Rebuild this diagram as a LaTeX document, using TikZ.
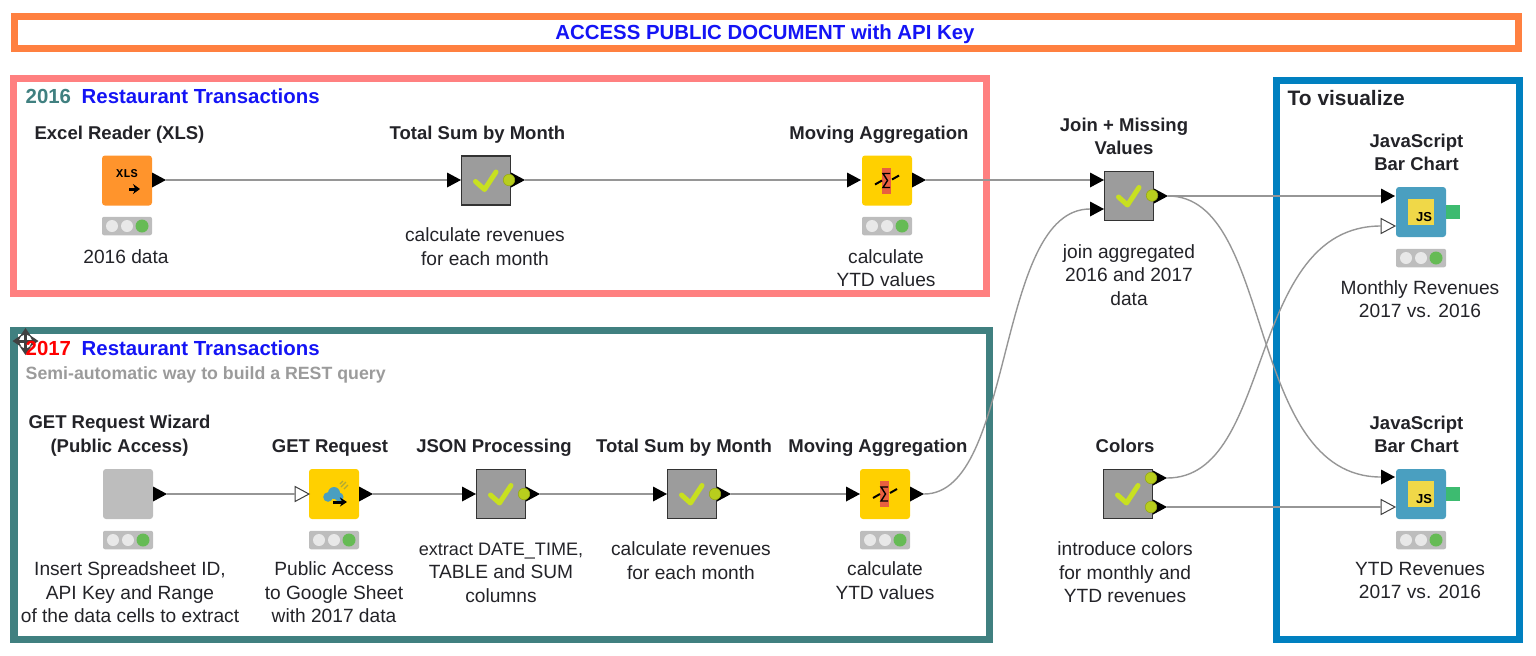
\documentclass[tikz,border=0pt]{standalone}
\usepackage{fontspec}
\setmainfont{Liberation Sans}
\newfontfamily\iconfont{Liberation Mono}
\usepackage{xcolor}
\usetikzlibrary{positioning, arrows.meta, calc, shapes.geometric}
\definecolor{forange}{RGB}{255,128,64}
\definecolor{fpink}{RGB}{255,128,128}
\definecolor{fteal}{RGB}{64,128,128}
\definecolor{fblue}{RGB}{0,128,192}
\definecolor{titleblue}{RGB}{20,20,245}
\definecolor{inktext}{RGB}{35,35,40}
\definecolor{notegray}{RGB}{155,155,155}
\definecolor{wiregray}{RGB}{150,150,150}
\definecolor{kyellow}{RGB}{255,208,0}
\definecolor{korange}{RGB}{255,148,44}
\definecolor{kgray}{RGB}{156,156,156}
\definecolor{kpale}{RGB}{189,189,189}
\definecolor{kblue}{RGB}{74,159,192}
\definecolor{klime}{RGB}{200,224,32}
\definecolor{jsyellow}{RGB}{240,216,72}
\definecolor{jsgreen}{RGB}{61,187,112}
\definecolor{lampgreen}{RGB}{102,187,85}
\definecolor{lampoff}{RGB}{232,232,232}
\definecolor{sumred}{RGB}{232,96,64}
\tikzset{
  frameline/.style={line width=0.07cm},
  wire/.style={draw=wiregray, line width=0.014cm},
  headtext/.style={font=\fontsize{5.27}{6.69}\selectfont\bfseries, text=inktext, align=center, inner sep=0pt},
  notetext/.style={font=\fontsize{5.45}{6.69}\selectfont, text=inktext, align=center, inner sep=0pt},
  tagtext/.style={font=\fontsize{5.8}{6.69}\selectfont\bfseries, anchor=west, inner sep=0pt},
  iconbox/.style={minimum size=0.5cm, inner sep=0pt, rounded corners=0.03cm},
  checkbox/.style={minimum size=0.49cm, inner sep=0pt, draw=black!80, fill=kgray, line width=0.017cm,
    path picture={\draw[klime, line width=0.05cm, line cap=round, line join=round]
      ([shift={(-0.105,0.01)}]path picture bounding box.center) -- ++(0.09,0.08) -- ++(0.115,-0.175);}},
  sumbox/.style={iconbox, fill=kyellow,
    path picture={
      \fill[sumred, sharp corners] ([shift={(-0.05,-0.13)}]path picture bounding box.center) rectangle ++(0.09,0.26);
      \draw[black, line width=0.02cm, sharp corners] ([shift={(-0.12,0.04)}]path picture bounding box.center) -- ++(0.07,-0.04);
      \draw[black, line width=0.02cm, sharp corners] ([shift={(0.05,-0.01)}]path picture bounding box.center) -- ++(0.07,-0.04);
      \draw[black, line width=0.014cm, sharp corners] ([shift={(0.03,-0.07)}]path picture bounding box.center) -- ++(-0.07,0) -- ++(0.045,0.07) -- ++(-0.045,0.07) -- ++(0.07,0);}},
  cloudbox/.style={iconbox, fill=kyellow,
    path picture={
      \fill[kblue] ([shift={(-0.06,0.03)}]path picture bounding box.center) circle (0.048);
      \fill[kblue] ([shift={(0,-0.01)}]path picture bounding box.center) circle (0.06);
      \fill[kblue] ([shift={(0.05,0.03)}]path picture bounding box.center) circle (0.045);
      \draw[black, line width=0.03cm, sharp corners, -{Stealth[length=0.07cm,width=0.09cm]}] ([shift={(-0.01,0.08)}]path picture bounding box.center) -- ++(0.14,0);
      \draw[olive!70!white, line width=0.012cm, sharp corners] ([shift={(0.07,-0.07)}]path picture bounding box.center) -- ++(0.05,-0.05);
      \draw[olive!70!white, line width=0.012cm, sharp corners] ([shift={(0.10,-0.05)}]path picture bounding box.center) -- ++(0.04,-0.04);
      \draw[olive!70!white, line width=0.012cm, sharp corners] ([shift={(0.06,-0.10)}]path picture bounding box.center) -- ++(0.03,-0.03);}},
  jsbox/.style={iconbox, fill=kblue,
    path picture={\fill[jsyellow, sharp corners] ([shift={(-0.127,-0.127)}]path picture bounding box.center) rectangle ++(0.254,0.254);}},
  portfill/.style={isosceles triangle, isosceles triangle stretches, minimum width=0.15cm, minimum height=0.14cm, inner sep=0pt, outer sep=0pt, anchor=west, fill=black},
  portopen/.style={portfill, fill=white, draw=black!75, line width=0.01cm},
  portdot/.style={circle, minimum size=0.115cm, inner sep=0pt, fill=klime!92!black, draw=klime!75!black, line width=0.006cm},
  lampbox/.style={minimum width=0.5cm, minimum height=0.185cm, inner sep=0pt, rounded corners=0.02cm, fill=kpale}
}
\begin{document}
\begin{tikzpicture}[y=-1cm]
    \useasboundingbox (0,0) rectangle (15.36,6.55);

    % Annotation frames
    \draw[frameline, forange] (0.145,0.165) rectangle (15.185,0.485);
    \draw[frameline, fpink] (0.135,0.785) rectangle (9.865,2.935);
    \draw[frameline, fteal] (0.14,3.305) rectangle (9.895,6.395);
    \draw[frameline, fblue] (12.765,0.805) rectangle (15.195,6.395);

    % Move cursor
    \draw[black!75, line width=0.03cm, {Stealth[length=0.09cm,width=0.12cm]}-{Stealth[length=0.09cm,width=0.12cm]}] (0.125,3.41) -- (0.385,3.41);
    \draw[black!75, line width=0.03cm, {Stealth[length=0.09cm,width=0.12cm]}-{Stealth[length=0.09cm,width=0.12cm]}] (0.255,3.28) -- (0.255,3.55);

    % Frame titles
    \node[font=\fontsize{5.8}{6.69}\selectfont\bfseries, text=titleblue, inner sep=0pt] (accesstitle) at (7.65,0.34) {ACCESS PUBLIC DOCUMENT with API Key};
    \node[tagtext, text=fteal] (year16) at (0.25,0.96) {2016};
    \node[tagtext, text=titleblue] (title16) at (0.81,0.96) {Restaurant Transactions};
    \node[tagtext, text=red] (year17) at (0.25,3.48) {2017};
    \node[tagtext, text=titleblue] (title17) at (0.81,3.48) {Restaurant Transactions};
    \node[tagtext, text=notegray, font=\fontsize{5.05}{6}\selectfont\bfseries] (semiauto) at (0.25,3.75) {Semi-automatic way to build a REST query};
    \node[tagtext, text=inktext, font=\fontsize{5.95}{6.69}\selectfont\bfseries] (tovisual) at (12.87,0.98) {To visualize};

    % Node boxes
    \node[iconbox, fill=korange] (excel) at (1.27,1.805) {};
    \node[checkbox] (tsum16) at (4.86,1.805) {};
    \node[sumbox] (movagg16) at (8.87,1.805) {};
    \node[checkbox] (joinmiss) at (11.29,1.96) {};
    \node[iconbox, fill=kpale] (wizard) at (1.28,4.94) {};
    \node[cloudbox] (getreq) at (3.34,4.94) {};
    \node[checkbox] (jsonproc) at (5.01,4.94) {};
    \node[checkbox] (tsum17) at (6.92,4.94) {};
    \node[sumbox] (movagg17) at (8.85,4.94) {};
    \node[checkbox] (colors) at (11.28,4.94) {};
    \node[jsbox] (chart16) at (14.21,2.12) {};
    \node[jsbox] (chart17) at (14.21,4.94) {};

    % Icon details
    \node[font=\fontsize{3.4}{4}\iconfont\bfseries, inner sep=0pt] (xlstext) at (1.27,1.74) {XLS};
    \draw[black, line width=0.03cm, -{Stealth[length=0.07cm,width=0.1cm]}] (1.29,1.89) -- (1.40,1.89);
    \node[font=\fontsize{3.7}{4}\selectfont\bfseries, inner sep=0pt] (jstext16) at (14.24,2.175) {JS};
    \node[font=\fontsize{3.7}{4}\selectfont\bfseries, inner sep=0pt] (jstext17) at (14.24,4.995) {JS};
    \fill[jsgreen] (14.46,2.05) rectangle (14.60,2.19);
    \fill[jsgreen] (14.46,4.87) rectangle (14.60,5.01);

    % Ports
    \foreach \n/\x/\y in {tsum16/4.47/1.80, movagg16/8.47/1.80, join1/10.90/1.80, join2/10.90/2.09, jsonproc/4.62/4.94, tsum17/6.53/4.94, movagg17/8.46/4.94, chart16/13.81/1.96, chart17/13.81/4.77} {
      \node[portfill] (\n-in) at (\x,\y) {};
    }
    \foreach \n/\x/\y in {getreq/2.95/4.94, chart16b/13.81/2.26, chart17b/13.81/5.07} {
      \node[portopen] (\n-in) at (\x,\y) {};
    }
    \foreach \n/\x/\y in {excel/1.52/1.80, tsum16/5.11/1.80, movagg16/9.12/1.80, joinmiss/11.54/1.96, wizard/1.53/4.94, getreq/3.59/4.94, jsonproc/5.26/4.94, tsum17/7.17/4.94, movagg17/9.10/4.94, colors1/11.53/4.78, colors2/11.53/5.07} {
      \node[portfill] (\n-out) at (\x,\y) {};
    }
    \foreach \n/\x/\y in {tsum16/5.09/1.80, joinmiss/11.52/1.955, jsonproc/5.24/4.94, tsum17/7.15/4.94, colors1/11.51/4.78, colors2/11.51/5.07} {
      \node[portdot] (\n-dot) at (\x,\y) {};
    }

    % Traffic lights
    \foreach \n/\x/\y in {excel/1.27/2.26, movagg16/8.87/2.26, wizard/1.28/5.40, getreq/3.34/5.40, movagg17/8.85/5.40, chart16/14.21/2.58, chart17/14.21/5.40} {
      \node[lampbox] (\n-lamp) at (\x,\y) {};
      \fill[lampoff] (\x-0.15,\y) circle (0.06);
      \fill[lampoff] (\x,\y) circle (0.06);
      \fill[lampgreen] (\x+0.15,\y) circle (0.065);
    }

    % Connectors
    \draw[wire] (excel-out.apex) -- (tsum16-in.west);
    \draw[wire] (tsum16-out.apex) -- (movagg16-in.west);
    \draw[wire] (movagg16-out.apex) -- (join1-in.west);
    \draw[wire] (wizard-out.apex) -- (getreq-in.west);
    \draw[wire] (getreq-out.apex) -- (jsonproc-in.west);
    \draw[wire] (jsonproc-out.apex) -- (tsum17-in.west);
    \draw[wire] (tsum17-out.apex) -- (movagg17-in.west);
    \draw[wire] (joinmiss-out.apex) -- (chart16-in.west);
    \draw[wire] (colors2-out.apex) -- (chart17b-in.west);
    \draw[wire] (movagg17-out.apex) .. controls (10.15,4.94) and (9.95,2.09) .. (join2-in.west);
    \draw[wire] (joinmiss-out.apex) .. controls (12.75,1.96) and (12.45,4.77) .. (chart17-in.west);
    \draw[wire] (colors1-out.apex) .. controls (12.75,4.78) and (12.45,2.26) .. (chart16b-in.west);

    % Headings above
    \node[headtext] (excel-head) at (1.195,1.345) {Excel Reader (XLS)};
    \node[headtext] (tsum16-head) at (4.775,1.345) {Total Sum by Month};
    \node[headtext] (movagg16-head) at (8.79,1.345) {Moving Aggregation};
    \node[headtext] (joinmiss-head) at (11.24,1.365) {Join + Missing\\Values};
    \node[headtext] (chart16-head) at (14.165,1.525) {JavaScript\\Bar Chart};
    \node[headtext] (wizard-head) at (1.195,4.355) {GET Request Wizard\\(Public Access)};
    \node[headtext] (getreq-head) at (3.30,4.475) {GET Request};
    \node[headtext] (jsonproc-head) at (4.94,4.475) {JSON Processing};
    \node[headtext] (tsum17-head) at (6.84,4.475) {Total Sum by Month};
    \node[headtext] (movagg17-head) at (8.78,4.475) {Moving Aggregation};
    \node[headtext] (colors-head) at (11.25,4.46) {Colors};
    \node[headtext] (chart17-head) at (14.165,4.345) {JavaScript\\Bar Chart};

    % Notes below
    \node[notetext] (excel-note) at (1.26,2.565) {2016 data};
    \node[notetext] (tsum16-note) at (4.85,2.465) {calculate revenues\\for each month};
    \node[notetext] (movagg16-note) at (8.86,2.68) {calculate\\YTD values};
    \node[notetext] (joinmiss-note) at (11.29,2.75) {join aggregated\\2016 and 2017\\data};
    \node[notetext] (chart16-note) at (14.20,2.99) {Monthly Revenues\\2017 vs. 2016};
    \node[notetext] (wizard-note) at (1.30,5.925) {Insert Spreadsheet ID,\\API Key and Range\\of the data cells to extract};
    \node[notetext] (getreq-note) at (3.34,5.925) {Public Access\\to Google Sheet\\with 2017 data};
    \node[notetext] (jsonproc-note) at (5.01,5.725) {{\fontsize{5.14}{6.69}\selectfont extract DATE\_TIME,}\\TABLE and SUM\\columns};
    \node[notetext] (tsum17-note) at (6.91,5.605) {calculate revenues\\for each month};
    \node[notetext] (movagg17-note) at (8.85,5.805) {calculate\\YTD values};
    \node[notetext] (colors-note) at (11.25,5.725) {introduce colors\\for monthly and\\YTD revenues};
    \node[notetext] (chart17-note) at (14.20,5.805) {YTD Revenues\\2017 vs. 2016};
\end{tikzpicture}
\end{document}
